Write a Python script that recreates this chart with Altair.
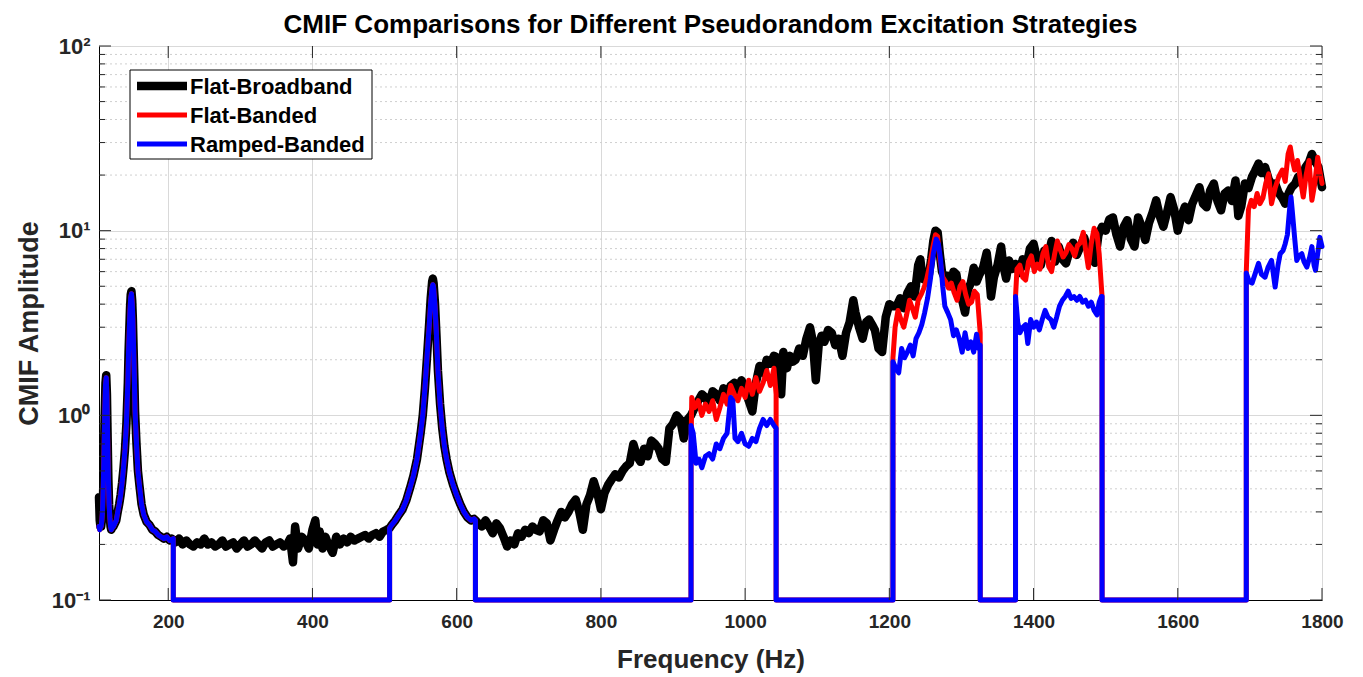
import altair as alt
import pandas as pd

# ---------------- data ----------------
FLOOR = 0.1
x_ticks = [200, 400, 600, 800, 1000, 1200, 1400, 1600, 1800]
y_major = [0.1, 1, 10, 100]
y_minor = [m * d for d in (0.1, 1, 10) for m in (2, 3, 4, 5, 6, 7, 8, 9)]

series_names = ["Flat-Broadband", "Flat-Banded", "Ramped-Banded"]
series_colors = ["#000000", "#ff0000", "#0000ff"]
series_widths = [8.5, 5, 5]

# Flat-Broadband (black)
black_res1 = [(104, 0.36), (105, 0.27), (106, 0.25), (107, 0.25), (108, 0.27), (109, 0.31), (110, 0.42),
              (111, 0.65), (112, 1.05), (113, 1.5), (114, 1.65), (115, 1.3), (116, 0.75), (117, 0.45),
              (118, 0.33), (119, 0.28), (120, 0.25), (121, 0.24), (122, 0.245), (124, 0.25), (126, 0.26),
              (128, 0.27), (130, 0.3), (132, 0.33), (134, 0.37), (136, 0.43), (138, 0.52), (140, 0.65),
              (142, 0.9), (144, 1.5), (145, 2.2), (146, 2.9), (147, 3.8), (148, 4.5), (149, 4.7), (150, 4.2),
              (151, 3.3), (152, 2.3), (153, 1.6), (154, 1.05), (156, 0.7), (158, 0.5), (160, 0.42),
              (163, 0.33), (166, 0.29), (170, 0.265), (174, 0.255), (178, 0.24), (182, 0.235), (186, 0.225),
              (190, 0.22), (194, 0.215), (198, 0.22), (202, 0.21), (205, 0.215)]
black_floor = [(210, 0.205), (215, 0.215), (220, 0.2), (225, 0.21), (230, 0.2), (235, 0.195), (240, 0.205),
               (245, 0.2), (250, 0.215), (255, 0.2), (260, 0.205), (265, 0.195), (270, 0.2), (275, 0.21),
               (280, 0.195), (285, 0.2), (290, 0.205), (295, 0.19), (300, 0.2), (305, 0.21), (310, 0.195),
               (315, 0.2), (320, 0.21), (325, 0.2), (330, 0.19), (335, 0.205), (340, 0.21), (345, 0.195),
               (350, 0.2), (355, 0.205), (360, 0.195), (365, 0.2), (369, 0.215), (373, 0.16), (376, 0.25),
               (380, 0.19), (385, 0.22), (390, 0.21), (395, 0.19), (400, 0.24), (404, 0.27), (407, 0.2),
               (410, 0.235), (414, 0.19), (418, 0.22), (422, 0.2), (428, 0.18), (433, 0.22), (438, 0.2),
               (443, 0.215), (448, 0.205), (453, 0.22), (458, 0.21), (463, 0.215), (468, 0.22), (473, 0.225),
               (478, 0.215), (483, 0.225), (488, 0.23), (493, 0.22), (498, 0.235), (503, 0.24)]
black_res2 = [(507, 0.245), (510, 0.255), (515, 0.27), (520, 0.29), (525, 0.31), (530, 0.345), (535, 0.4),
              (540, 0.47), (545, 0.58), (550, 0.8), (553, 1.0), (556, 1.4), (559, 2.1), (562, 3.2), (564, 4.3),
              (566, 5.3), (567, 5.5), (568, 5.2), (570, 4.0), (572, 2.7), (574, 1.75), (577, 1.15), (580, 0.85),
              (583, 0.68), (586, 0.58), (590, 0.49), (595, 0.42), (600, 0.37), (605, 0.33), (610, 0.3),
              (615, 0.28), (620, 0.27), (624, 0.275), (626, 0.27)]
black_rise = [(630, 0.26), (635, 0.25), (640, 0.27), (645, 0.25), (650, 0.23), (655, 0.26), (660, 0.245),
              (665, 0.22), (670, 0.195), (675, 0.21), (680, 0.2), (685, 0.23), (690, 0.22), (695, 0.24),
              (700, 0.23), (705, 0.25), (710, 0.24), (715, 0.235), (720, 0.27), (725, 0.26), (730, 0.21),
              (735, 0.24), (740, 0.27), (745, 0.3), (750, 0.28), (755, 0.3), (760, 0.33), (765, 0.35),
              (770, 0.3), (775, 0.24), (780, 0.33), (785, 0.37), (790, 0.44), (795, 0.38), (800, 0.31),
              (805, 0.38), (810, 0.42), (815, 0.45), (820, 0.48), (825, 0.46), (830, 0.5), (835, 0.53),
              (840, 0.55), (845, 0.7), (850, 0.6), (855, 0.56), (860, 0.66), (865, 0.6), (870, 0.73),
              (875, 0.7), (880, 0.66), (885, 0.58), (890, 0.56), (895, 0.85), (900, 0.9), (905, 1.0),
              (910, 0.95), (915, 0.75), (920, 0.95)]
black_mid = [(925, 1.0), (930, 1.1), (935, 1.2), (940, 1.3), (945, 1.25), (950, 1.15), (955, 1.35), (960, 1.3),
             (965, 1.2), (970, 1.4), (975, 1.3), (980, 1.45), (985, 1.5), (990, 1.35), (995, 1.55), (1000, 1.4),
             (1005, 1.2), (1010, 1.05), (1015, 1.5), (1020, 1.85), (1025, 1.7), (1030, 2.0), (1035, 1.9),
             (1040, 2.1), (1045, 2.05), (1050, 1.3), (1053, 2.2), (1058, 1.8), (1062, 2.1), (1066, 1.95),
             (1070, 2.0), (1075, 2.3), (1080, 2.1), (1085, 2.6), (1090, 3.0), (1094, 2.5), (1098, 1.55),
             (1102, 2.4), (1106, 2.7), (1110, 2.5), (1115, 2.9), (1120, 2.8), (1125, 2.4), (1130, 2.6),
             (1135, 2.1), (1140, 2.8), (1145, 3.2), (1150, 4.2), (1153, 3.6), (1158, 3.0), (1163, 2.6),
             (1168, 3.2), (1172, 3.3), (1176, 3.1), (1180, 2.9), (1185, 2.3), (1190, 2.2), (1195, 3.4),
             (1200, 4.0), (1205, 3.9)]
black_high = [(1210, 3.9), (1215, 4.3), (1220, 3.8), (1225, 4.6), (1230, 5.0), (1235, 4.4), (1240, 6.5),
              (1243, 7.0), (1246, 5.5), (1250, 5.4), (1255, 5.8), (1258, 7.0), (1261, 8.8), (1264, 10.0),
              (1267, 9.8), (1270, 7.5), (1273, 6.0), (1277, 5.5), (1281, 5.7), (1285, 5.0), (1289, 6.0),
              (1293, 5.8), (1297, 4.6), (1301, 4.2), (1305, 3.6), (1309, 4.8), (1313, 5.2), (1317, 6.3),
              (1321, 5.3), (1325, 5.8), (1330, 6.3), (1335, 7.6), (1338, 6.0), (1341, 4.4), (1345, 5.6),
              (1350, 6.5), (1355, 8.2), (1358, 6.5), (1362, 5.5), (1366, 6.9), (1370, 6.2), (1375, 6.6)]
black_top = [(1380, 5.9), (1385, 7.0), (1390, 6.4), (1395, 8.0), (1400, 8.5), (1405, 7.0), (1410, 6.5),
             (1415, 7.8), (1420, 7.2), (1425, 8.8), (1430, 6.8), (1435, 8.2), (1440, 7.0), (1445, 6.65),
             (1450, 7.8), (1455, 8.6), (1460, 7.4), (1465, 8.2), (1470, 9.2), (1475, 8.0), (1480, 7.2),
             (1485, 6.7), (1490, 9.5), (1495, 10.5), (1500, 10.0), (1505, 11.5), (1510, 11.8), (1515, 9.5),
             (1520, 8.2), (1525, 10.5), (1530, 11.4), (1535, 9.0), (1540, 8.2), (1545, 11.8), (1550, 10.5),
             (1555, 8.9), (1560, 11.0), (1565, 12.5), (1570, 14.6), (1575, 12.0), (1580, 10.5), (1585, 12.5),
             (1590, 15.2), (1595, 13.0), (1600, 10.0), (1605, 12.0), (1610, 13.5), (1615, 11.4), (1620, 14.0),
             (1625, 15.5), (1630, 17.2), (1635, 14.0), (1640, 13.4), (1645, 16.5), (1650, 18.0), (1655, 14.5),
             (1660, 12.9), (1665, 15.9), (1670, 16.5), (1675, 14.5), (1680, 18.7), (1684, 12.0), (1688, 13.5),
             (1693, 18.0), (1698, 17.0), (1703, 19.6), (1707, 21.0), (1712, 23.1), (1716, 20.5), (1721, 22.1),
             (1726, 19.0), (1731, 17.5), (1735, 18.0), (1740, 16.0), (1745, 15.0), (1749, 14.0), (1754, 16.0),
             (1758, 17.2), (1763, 18.0), (1767, 19.6), (1772, 18.0), (1777, 22.0), (1782, 23.5), (1786, 26.0),
             (1790, 24.0), (1795, 22.1), (1800, 17.2)]

# Banded excitations (red & blue share the low-frequency resonances)
banded_res1 = [(104, 0.25), (105, 0.24), (106, 0.25), (107, 0.25), (108, 0.27), (109, 0.31), (110, 0.42),
               (111, 0.65), (112, 1.05), (113, 1.45), (114, 1.6), (115, 1.28), (116, 0.75), (117, 0.45),
               (118, 0.33), (119, 0.28), (120, 0.25), (121, 0.24), (122, 0.245), (124, 0.25), (126, 0.26),
               (128, 0.27), (130, 0.3), (132, 0.33), (134, 0.37), (136, 0.43), (138, 0.52), (140, 0.65),
               (142, 0.9), (144, 1.5), (145, 2.2), (146, 2.9), (147, 3.7), (148, 4.35), (149, 4.55), (150, 4.1),
               (151, 3.3), (152, 2.3), (153, 1.6), (154, 1.05), (156, 0.7), (158, 0.5), (160, 0.42),
               (163, 0.33), (166, 0.29), (170, 0.265), (174, 0.255), (178, 0.24), (182, 0.235), (186, 0.225),
               (190, 0.22), (194, 0.215), (198, 0.22), (202, 0.21), (207, 0.215)]
banded_res2 = [(507, 0.245), (510, 0.255), (515, 0.27), (520, 0.29), (525, 0.31), (530, 0.345), (535, 0.4),
               (540, 0.47), (545, 0.58), (550, 0.8), (553, 1.0), (556, 1.4), (559, 2.1), (562, 3.1), (564, 4.1),
               (566, 4.9), (567, 5.1), (568, 4.9), (570, 3.9), (572, 2.7), (574, 1.75), (577, 1.15), (580, 0.85),
               (583, 0.68), (586, 0.58), (590, 0.49), (595, 0.42), (600, 0.37), (605, 0.33), (610, 0.3),
               (615, 0.28), (620, 0.27), (624, 0.275), (626, 0.27)]

# Flat-Banded (red) bands
red_b1 = [(925, 0.65), (926, 1.25), (930, 1.1), (935, 1.2), (940, 1.0), (945, 1.15), (950, 1.05), (955, 1.2),
          (960, 0.95), (965, 1.1), (970, 1.3), (975, 1.15), (980, 1.45), (985, 1.3), (990, 1.2), (995, 1.4),
          (1000, 1.25), (1005, 1.55), (1010, 1.3), (1015, 1.6), (1020, 1.35), (1025, 1.5), (1030, 1.75),
          (1035, 1.45), (1040, 1.8), (1043, 1.3)]
red_b2 = [(1205, 2.05), (1208, 3.0), (1212, 3.7), (1216, 3.3), (1220, 3.0), (1224, 3.5), (1228, 4.2),
          (1232, 3.8), (1236, 3.4), (1240, 4.2), (1244, 4.5), (1248, 4.9), (1252, 5.5), (1256, 6.5), (1260, 8.0),
          (1264, 9.5), (1267, 9.3), (1270, 7.0), (1274, 5.6), (1278, 5.3), (1282, 4.9), (1286, 5.2), (1290, 4.6),
          (1294, 4.2), (1298, 5.0), (1302, 5.3), (1306, 4.5), (1310, 4.0), (1314, 4.1), (1318, 4.7), (1322, 4.5),
          (1326, 2.8)]
red_b3 = [(1375, 4.4), (1377, 6.2), (1381, 6.5), (1385, 5.6), (1389, 5.4), (1393, 6.8), (1397, 7.3), (1401, 6.0),
          (1405, 6.6), (1409, 6.2), (1413, 7.5), (1417, 8.2), (1421, 6.4), (1425, 6.0), (1429, 7.4), (1433, 8.8),
          (1437, 7.9), (1441, 7.2), (1445, 7.6), (1449, 8.4), (1453, 8.0), (1457, 7.3), (1461, 8.3), (1465, 8.6),
          (1469, 9.8), (1472, 8.0), (1476, 6.3), (1480, 8.5), (1484, 10.3), (1488, 9.6), (1491, 7.5),
          (1494, 5.0), (1495, 4.4)]
red_b4 = [(1695, 6.0), (1698, 13.0), (1702, 14.6), (1706, 13.5), (1710, 15.9), (1714, 14.0), (1718, 15.0),
          (1722, 18.0), (1726, 20.3), (1730, 14.0), (1735, 17.0), (1740, 19.6), (1745, 21.3), (1749, 18.5),
          (1753, 26.0), (1756, 28.4), (1759, 24.0), (1762, 21.3), (1766, 24.0), (1770, 19.0), (1774, 15.2),
          (1778, 20.0), (1782, 24.0), (1786, 14.6), (1790, 18.0), (1794, 25.0), (1797, 21.0), (1800, 18.0)]

# Ramped-Banded (blue) bands
blue_b1 = [(925, 0.88), (928, 0.8), (932, 0.55), (936, 0.58), (940, 0.52), (945, 0.6), (950, 0.62), (955, 0.58),
           (960, 0.7), (965, 0.66), (970, 0.75), (975, 0.8), (980, 1.25), (983, 1.2), (986, 0.75), (990, 0.72),
           (995, 0.8), (1000, 0.7), (1005, 0.68), (1010, 0.75), (1015, 0.72), (1020, 0.85), (1025, 0.95),
           (1030, 0.88), (1035, 0.95), (1040, 0.88), (1043, 0.85)]
blue_b2 = [(1205, 1.95), (1209, 1.8), (1213, 1.7), (1217, 2.3), (1221, 2.05), (1225, 2.2), (1229, 2.4),
           (1233, 2.1), (1237, 2.6), (1241, 2.8), (1245, 3.1), (1249, 3.6), (1253, 4.3), (1257, 5.5), (1261, 7.5),
           (1265, 9.0), (1268, 8.5), (1271, 7.0), (1274, 5.0), (1277, 3.9), (1281, 3.6), (1285, 3.3), (1289, 2.7),
           (1293, 2.9), (1297, 2.6), (1301, 2.2), (1305, 2.8), (1309, 2.3), (1313, 2.5), (1317, 2.2),
           (1321, 2.75), (1324, 2.3), (1326, 2.4)]
blue_b3 = [(1375, 4.4), (1378, 3.2), (1381, 2.8), (1385, 3.0), (1389, 3.1), (1392, 2.45), (1396, 3.3),
           (1400, 3.0), (1404, 3.2), (1408, 2.9), (1412, 3.3), (1416, 3.7), (1420, 3.4), (1424, 3.3), (1428, 3.0),
           (1432, 3.4), (1436, 3.9), (1440, 4.2), (1444, 4.4), (1448, 4.7), (1452, 4.3), (1456, 4.4), (1460, 4.2),
           (1464, 4.4), (1468, 4.1), (1472, 4.2), (1476, 3.9), (1480, 4.1), (1484, 3.7), (1488, 3.5),
           (1491, 4.1), (1494, 4.4), (1495, 4.4)]
blue_b4 = [(1695, 5.9), (1699, 5.3), (1703, 5.2), (1707, 5.8), (1712, 6.65), (1716, 5.8), (1721, 5.6),
           (1725, 6.3), (1730, 6.9), (1735, 4.95), (1739, 6.5), (1742, 7.5), (1746, 7.8), (1749, 8.5),
           (1752, 9.5), (1755, 13.0), (1757, 15.2), (1759, 12.5), (1762, 9.2), (1765, 6.9), (1768, 7.3),
           (1772, 7.5), (1775, 6.8), (1779, 6.35), (1783, 7.2), (1786, 8.2), (1789, 6.5), (1791, 6.1),
           (1794, 7.5), (1797, 9.2), (1800, 8.2)]


# ---------------- assemble ----------------
def banded(segments):
    pts = []
    for i, seg in enumerate(segments):
        if i > 0:
            pts.append((seg[0][0], FLOOR))
        pts.extend(seg)
        if i < len(segments) - 1:
            pts.append((seg[-1][0], FLOOR))
    return pts


black_pts = black_res1 + black_floor + black_res2 + black_rise + black_mid + black_high + black_top
red_pts = banded([banded_res1, banded_res2, red_b1, red_b2, red_b3, red_b4])
blue_pts = banded([banded_res1, banded_res2, blue_b1, blue_b2, blue_b3, blue_b4])

rows = []
for name, pts in zip(series_names, [black_pts, red_pts, blue_pts]):
    for i, (f, v) in enumerate(pts):
        rows.append({"f": f, "v": v, "series": name, "idx": i})
df = pd.DataFrame(rows)

W, H = 1223, 554
FONT = "Liberation Sans"
TXT = "#262626"
xscale = alt.Scale(domain=[104, 1800], nice=False, zero=False)
yscale = alt.Scale(type="log", domain=[0.1, 100], nice=False)

label_expr = ("datum.value >= 50 ? '10\u00b2' : datum.value >= 5 ? '10\u00b9' : "
              "datum.value >= 0.5 ? '10\u2070' : '10\u207b\u00b9'")

XAX = alt.Axis(values=x_ticks, grid=True, gridColor="#d9d9d9", ticks=False, domainColor="black",
               labelFont=FONT, labelFontSize=19, labelFontWeight="bold", labelColor=TXT,
               labelPadding=12, labelFlush=False, labelOverlap=False, format="d",
               title="Frequency (Hz)", titleFont=FONT, titleFontSize=26, titleFontWeight="bold",
               titleColor=TXT, titlePadding=15)
YAX = alt.Axis(values=y_major, grid=True, gridColor="#d9d9d9", ticks=False, domainColor="black",
               labelExpr=label_expr, labelFont=FONT, labelFontSize=22, labelFontWeight="bold",
               labelColor=TXT, labelPadding=9, labelOverlap=False,
               title="CMIF Amplitude", titleFont=FONT, titleFontSize=27, titleFontWeight="bold",
               titleColor=TXT, titlePadding=8)

minor_grid = alt.Chart(pd.DataFrame({"t": y_minor})).mark_rule(
    color="#cfcfcf", strokeWidth=1, strokeDash=[2, 3]
).encode(y=alt.Y("t:Q", scale=yscale, axis=YAX))


def line_layer(name, color, width):
    return alt.Chart(df).transform_filter(alt.datum.series == name).mark_line(
        color=color, strokeWidth=width, strokeJoin="round", strokeCap="round", clip=False
    ).encode(
        x=alt.X("f:Q", scale=xscale, axis=XAX),
        y=alt.Y("v:Q", scale=yscale, axis=YAX),
        order=alt.Order("idx:Q"),
    )


black = line_layer(series_names[0], series_colors[0], series_widths[0])
red = line_layer(series_names[1], series_colors[1], series_widths[1])
blue = line_layer(series_names[2], series_colors[2], series_widths[2])

# inward ticks (MATLAB style) on all four sides
xt = pd.DataFrame({"t": x_ticks})
ymaj = pd.DataFrame({"t": y_major})
ymin = pd.DataFrame({"t": y_minor})
tick_col = TXT
ticks = [
    alt.Chart(xt).mark_rule(color=tick_col).encode(x=alt.X("t:Q", scale=xscale, axis=XAX),
                                                   y=alt.value(H), y2=alt.value(H - 12)),
    alt.Chart(xt).mark_rule(color=tick_col).encode(x=alt.X("t:Q", scale=xscale, axis=XAX),
                                                   y=alt.value(0), y2=alt.value(12)),
    alt.Chart(ymaj).mark_rule(color=tick_col).encode(y=alt.Y("t:Q", scale=yscale, axis=YAX),
                                                     x=alt.value(0), x2=alt.value(12)),
    alt.Chart(ymaj).mark_rule(color=tick_col).encode(y=alt.Y("t:Q", scale=yscale, axis=YAX),
                                                     x=alt.value(W), x2=alt.value(W - 12)),
    alt.Chart(ymin).mark_rule(color=tick_col).encode(y=alt.Y("t:Q", scale=yscale, axis=YAX),
                                                     x=alt.value(0), x2=alt.value(6)),
    alt.Chart(ymin).mark_rule(color=tick_col).encode(y=alt.Y("t:Q", scale=yscale, axis=YAX),
                                                     x=alt.value(W), x2=alt.value(W - 6)),
]

# legend box
one = pd.DataFrame({"k": [0]})
legend = [alt.Chart(one).mark_rect(fill="white", stroke="black", strokeWidth=1).encode(
    x=alt.value(31), x2=alt.value(273), y=alt.value(24), y2=alt.value(113))]
for i, (name, col, w) in enumerate(zip(series_names, series_colors, series_widths)):
    yy = 40 + 29 * i
    legend.append(alt.Chart(one).mark_rule(color=col, strokeWidth=w).encode(
        x=alt.value(38), x2=alt.value(88), y=alt.value(yy)))
    legend.append(alt.Chart(one).mark_text(text=name, align="left", baseline="middle", font=FONT,
                                           fontSize=22, fontWeight="bold", color="black").encode(
        x=alt.value(91), y=alt.value(yy + 1)))

chart = alt.layer(minor_grid, black, red, blue, *ticks, *legend).properties(
    width=W, height=H,
    title=alt.TitleParams("CMIF Comparisons for Different Pseudorandom Excitation Strategies",
                          font=FONT, fontSize=26, fontWeight="bold", color="black", anchor="middle",
                          offset=-3),
    autosize=alt.AutoSizeParams(type="none"),
    padding={"left": 99, "top": 46, "right": 41, "bottom": 77},
).configure_view(stroke="black", strokeWidth=1).configure(background="white")

chart.save("out.html", embed_options={"renderer": "svg", "actions": False})
